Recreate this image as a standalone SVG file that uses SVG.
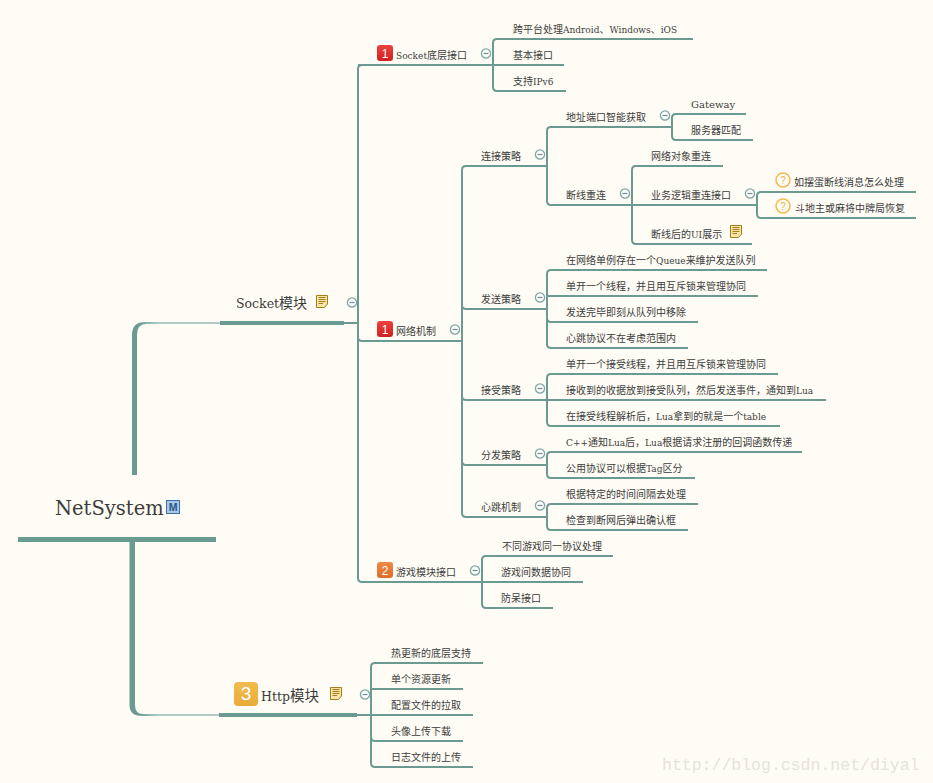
<svg xmlns="http://www.w3.org/2000/svg" width="933" height="783" viewBox="0 0 933 783">
<style>
text{font-family:"DejaVu Serif","Noto Sans CJK SC",serif;fill:#3c3c3c;font-size:10px}
.l{font-size:9px}
.k{font-size:12.500px}
.c{fill:none;stroke:#6a9a90;stroke-width:2}
.u3{fill:none;stroke:#6a9a90;stroke-width:4}
.t circle{fill:#fffcf5;stroke:#7fa9a8;stroke-width:1.3}
.t line{stroke:#6a8fa0;stroke-width:1.2}
.b text{font-family:"Liberation Sans",sans-serif;fill:#fff;text-anchor:middle;font-size:12px}
.q circle{fill:#fffcf5;stroke:#f5b94e;stroke-width:1.5}
.q text{font-family:"Liberation Sans",sans-serif;fill:#f0b040;font-size:10px;text-anchor:middle}
.n path{fill:#f8e6a8;stroke:#a67c17;stroke-width:1}
.n line{stroke:#a67c17;stroke-width:1}
</style>
<defs>
<linearGradient id="r" x1="0" y1="0" x2="0" y2="1"><stop offset="0" stop-color="#ef4040"/><stop offset="1" stop-color="#d01f1f"/></linearGradient>
<linearGradient id="o" x1="0" y1="0" x2="0" y2="1"><stop offset="0" stop-color="#ef8a45"/><stop offset="1" stop-color="#dd6e2a"/></linearGradient>
<linearGradient id="y" x1="0" y1="0" x2="0" y2="1"><stop offset="0" stop-color="#f4bc50"/><stop offset="1" stop-color="#e8ab38"/></linearGradient>
<linearGradient id="f1" gradientUnits="userSpaceOnUse" x1="138" y1="0" x2="158" y2="0"><stop offset="0" stop-color="#6a9a90"/><stop offset="1" stop-color="#b2cbc5"/></linearGradient>
<g id="note" class="n"><path d="M.5 .5H11.500V9L8.500 12.500H.5Z"/><line x1="2.500" y1="2.500" x2="9.500" y2="2.500"/><line x1="2.500" y1="4.500" x2="9.500" y2="4.500"/><line x1="2.500" y1="6.500" x2="9.500" y2="6.500"/><line x1="2.500" y1="8.500" x2="7" y2="8.500"/></g>
<g id="tg" class="t"><circle r="4.600"/><line x1="-2.500" x2="2.500"/></g>
</defs>
<rect width="933" height="783" fill="#fffcf5"/>
<g id="connectors">
<path d="M132 475V335Q132 322 145 322H220V324H146Q137 324 137 335V475Z" fill="url(#f1)"/>
<path d="M129.500 542V705Q129.500 716 142 716H219V714H143Q135 714 135 705V542Z" fill="url(#f1)"/>
<path class="u3" d="M18 539.500H216" style="stroke-width:5"/>
<path class="u3" d="M220 323H344M219 715H357"/>
<path class="c" d="M344 323H358M357 715H371"/>
<path class="c" d="M493 65H358M358 69Q358 65 362 65M358 69V578Q358 582 362 582H482M358 337Q358 341 362 341H462"/>
<path class="c" d="M497 39Q493 39 493 43V87Q493 91 497 91H566M497 39H693M493 65H564"/>
<path class="c" d="M466 166Q462 166 462 170V513Q462 517 466 517H547M466 166H547M462 305Q462 309 466 309H547M462 396Q462 400 466 400H547M462 461Q462 465 466 465H547"/>
<path class="c" d="M551 127Q547 127 547 131V201Q547 205 551 205H632M551 127H672"/>
<path class="c" d="M676 114Q672 114 672 118V136Q672 140 676 140H753M676 114H746"/>
<path class="c" d="M636 166Q632 166 632 170V240Q632 244 636 244H752M636 166H723M632 205H757"/>
<path class="c" d="M761 192Q757 192 757 196V214Q757 218 761 218H916M761 192H916"/>
<path class="c" d="M551 270Q547 270 547 274V344Q547 348 551 348H688M551 270H767M547 296H758M547 318Q547 322 551 322H698"/>
<path class="c" d="M551 374Q547 374 547 378V422Q547 426 551 426H780M551 374H778M547 400H826"/>
<path class="c" d="M551 452Q547 452 547 456V474Q547 478 551 478H695M551 452H802"/>
<path class="c" d="M551 504Q547 504 547 508V526Q547 530 551 530H688M551 504H698"/>
<path class="c" d="M486 556Q482 556 482 560V604Q482 608 486 608H553M486 556H613M482 582H583"/>
<path class="c" d="M375 663Q371 663 371 667V763Q371 767 375 767H473M375 663H483M371 689H463M371 715H473M371 737Q371 741 375 741H463"/>
</g>
<g id="root"><text x="55" y="515" style="font-size:19.500px">NetSystem</text>
<rect x="166.500" y="500.500" width="13" height="13" fill="#a9c8e8" stroke="#3a6ea5"/><text x="173" y="511" text-anchor="middle" style="font-family:'Liberation Sans',sans-serif;font-size:10.500px;font-weight:bold;fill:#25558a">M</text></g>
<g id="socket"><text x="236" y="308" style="font-size:14px"><tspan class="k">Socket</tspan>模块</text><use href="#note" x="316" y="295"/><use href="#tg" x="352" y="302.500"/></g>
<g id="http"><g class="b"><rect x="234" y="682" width="24" height="24" rx="4" fill="url(#y)"/><text x="246" y="700" style="font-size:19px">3</text></g><text x="261" y="701" style="font-size:14.500px"><tspan class="k">Http</tspan>模块</text><use href="#note" x="330" y="687"/><use href="#tg" x="365" y="694.500"/></g>
<g id="n1"><g class="b"><rect x="377" y="45" width="16" height="16" rx="3" fill="url(#r)"/><text x="385" y="57.500">1</text></g><text x="396" y="59"><tspan class="l">Socket</tspan>底层接口</text><use href="#tg" x="486" y="53.500"/></g>
<g id="n2"><g class="b"><rect x="377" y="321" width="16" height="16" rx="3" fill="url(#r)"/><text x="385" y="333.500">1</text></g><text x="396" y="335">网络机制</text><use href="#tg" x="455" y="329.500"/></g>
<g id="n3"><g class="b"><rect x="377" y="562" width="16" height="16" rx="3" fill="url(#o)"/><text x="385" y="574.500">2</text></g><text x="396" y="576">游戏模块接口</text><use href="#tg" x="475" y="570.500"/></g>
<g id="l1"><text x="513" y="33">跨平台处理<tspan class="l">Android</tspan>、<tspan class="l">Windows</tspan>、<tspan class="l">iOS</tspan></text><text x="513" y="59">基本接口</text><text x="513" y="85">支持<tspan class="l">IPv6</tspan></text></g>
<g id="lianjie"><text x="481" y="160">连接策略</text><use href="#tg" x="540" y="154.500"/><text x="566" y="121">地址端口智能获取</text><use href="#tg" x="665" y="115.500"/><text x="691" y="108">Gateway</text><text x="691" y="134">服务器匹配</text><text x="566" y="199">断线重连</text><use href="#tg" x="625" y="193.500"/><text x="651" y="160">网络对象重连</text><text x="651" y="199">业务逻辑重连接口</text><use href="#tg" x="750" y="193.500"/><text x="651" y="238">断线后的<tspan class="l">UI</tspan>展示</text><use href="#note" x="730" y="225"/></g>
<g id="qa"><g class="q"><circle cx="783" cy="180" r="7"/><text x="783" y="183.500">?</text></g><text x="794" y="186">如摆蛋断线消息怎么处理</text><g class="q"><circle cx="783" cy="206" r="7"/><text x="783" y="209.500">?</text></g><text x="795" y="212">斗地主或麻将中牌局恢复</text></g>
<g id="fasong"><text x="481" y="303">发送策略</text><use href="#tg" x="540" y="297.500"/><text x="566" y="264">在网络单例存在一个<tspan class="l">Queue</tspan>来维护发送队列</text><text x="566" y="290">单开一个线程，并且用互斥锁来管理协同</text><text x="566" y="316">发送完毕即刻从队列中移除</text><text x="566" y="342">心跳协议不在考虑范围内</text></g>
<g id="jieshou"><text x="481" y="394">接受策略</text><use href="#tg" x="540" y="388.500"/><text x="566" y="368">单开一个接受线程，并且用互斥锁来管理协同</text><text x="566" y="394">接收到的收据放到接受队列，然后发送事件，通知到<tspan class="l">Lua</tspan></text><text x="566" y="420">在接受线程解析后，<tspan class="l">Lua</tspan>拿到的就是一个<tspan class="l">table</tspan></text></g>
<g id="fenfa"><text x="481" y="459">分发策略</text><use href="#tg" x="540" y="453.500"/><text x="566" y="446"><tspan class="l">C++</tspan>通知<tspan class="l">Lua</tspan>后，<tspan class="l">Lua</tspan>根据请求注册的回调函数传递</text><text x="566" y="472">公用协议可以根据<tspan class="l">Tag</tspan>区分</text></g>
<g id="xintiao"><text x="481" y="511">心跳机制</text><use href="#tg" x="540" y="505.500"/><text x="566" y="498">根据特定的时间间隔去处理</text><text x="566" y="524">检查到断网后弹出确认框</text></g>
<g id="youxi"><text x="502" y="550">不同游戏同一协议处理</text><text x="501" y="576">游戏间数据协同</text><text x="501" y="602">防呆接口</text></g>
<g id="httpc"><text x="391" y="657">热更新的底层支持</text><text x="391" y="683">单个资源更新</text><text x="391" y="709">配置文件的拉取</text><text x="391" y="735">头像上传下载</text><text x="391" y="761">日志文件的上传</text></g>
<text id="wm" x="662" y="770" style="font-family:'Liberation Mono',monospace;font-size:16.500px;fill:#e6e3da">http://blog.csdn.net/diyal</text>
</svg>
